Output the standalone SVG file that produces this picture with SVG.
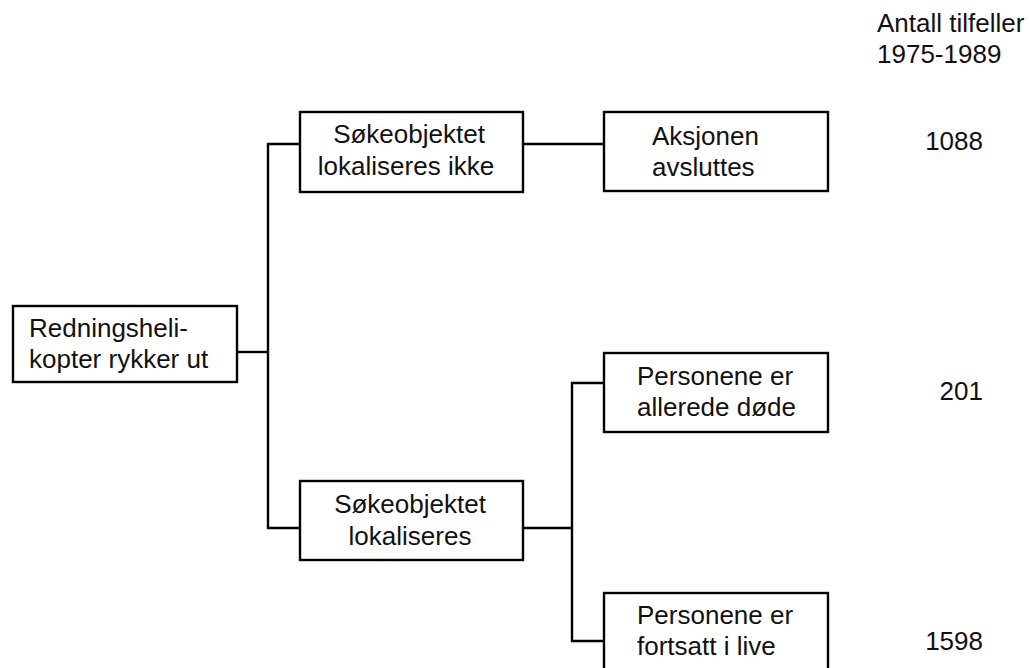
<svg xmlns="http://www.w3.org/2000/svg" width="1029" height="668" viewBox="0 0 1029 668">
<style>
.box{fill:#fff;stroke:#000;stroke-width:2.4}
.ln{fill:none;stroke:#000;stroke-width:2.4}
text{font-family:"Liberation Sans",Arial,sans-serif;font-size:26px;fill:#111}
.c{text-anchor:middle}
.r{text-anchor:end}
</style>
<g id="connectors">
<polyline class="ln" points="237,352 268,352"/>
<polyline class="ln" points="300,144 268,144 268,528 300,528"/>
<polyline class="ln" points="523,144 604,144"/>
<polyline class="ln" points="523,528 572,528"/>
<polyline class="ln" points="604,383 572,383 572,641 604,641"/>
</g>
<g id="n1">
<rect class="box" x="13" y="306" width="224" height="76"/>
<text x="29" y="337">Redningsheli-</text>
<text x="29" y="368">kopter rykker ut</text>
</g>
<g id="n2">
<rect class="box" x="300" y="112" width="223" height="80"/>
<text class="c" x="409" y="143">Søkeobjektet</text>
<text class="c" x="406" y="175">lokaliseres ikke</text>
</g>
<g id="n3">
<rect class="box" x="604" y="112" width="224" height="79"/>
<text x="652" y="145">Aksjonen</text>
<text x="652" y="176">avsluttes</text>
</g>
<g id="n4">
<rect class="box" x="300" y="481" width="223" height="79"/>
<text class="c" x="410" y="513">Søkeobjektet</text>
<text class="c" x="410" y="545">lokaliseres</text>
</g>
<g id="n5">
<rect class="box" x="604" y="353" width="224" height="79"/>
<text x="637" y="385">Personene er</text>
<text x="637" y="416">allerede døde</text>
</g>
<g id="n6">
<rect class="box" x="604" y="593" width="224" height="80"/>
<text x="637" y="624">Personene er</text>
<text x="637" y="655">fortsatt i live</text>
</g>
<g id="counts">
<text x="877" y="32">Antall tilfeller</text>
<text x="877" y="63">1975-1989</text>
<text class="r" x="983" y="150">1088</text>
<text class="r" x="983" y="400">201</text>
<text class="r" x="983" y="650">1598</text>
</g>
</svg>
